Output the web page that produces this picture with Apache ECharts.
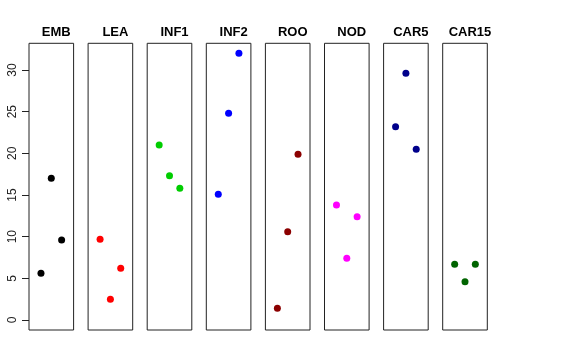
<!DOCTYPE html>
<html><head><meta charset="utf-8">
<script src="https://cdn.jsdelivr.net/npm/echarts@6/dist/echarts.min.js"></script>
<style>html,body{margin:0;padding:0;background:#fff}#c{width:576px;height:360px}</style>
</head><body><div id="c"></div>
<script>
var categories = ['EMB','LEA','INF1','INF2','ROO','NOD','CAR5','CAR15'];
var colors = ['#000000','#FF0000','#00CD00','#0000FF','#8B0000','#FF00FF','#00008B','#006400'];
var valEMB = [5.6, 17.0, 9.6];
var valLEA = [9.7, 2.5, 6.2];
var valINF1 = [21.0, 17.3, 15.8];
var valINF2 = [15.1, 24.8, 32.0];
var valROO = [1.4, 10.6, 19.9];
var valNOD = [13.8, 7.4, 12.4];
var valCAR5 = [23.2, 29.6, 20.5];
var valCAR15 = [6.7, 4.6, 6.7];
var yTicks = [0, 5, 10, 15, 20, 25, 30];
var allVals = [valEMB, valLEA, valINF1, valINF2, valROO, valNOD, valCAR5, valCAR15];

var panelLeft0 = 29, panelStep = 59.1, panelW = 44.6, panelTop = 43.3, panelH = 286.7;
var grids = [], xAxes = [], yAxes = [], series = [], titles = [];
for (var i = 0; i < categories.length; i++) {
  var L = panelLeft0 + i * panelStep;
  grids.push({left: L, top: panelTop, width: panelW, height: panelH, show: true,
    borderColor: '#222', borderWidth: 1, backgroundColor: 'transparent', containLabel: false});
  xAxes.push({gridIndex: i, type: 'value', min: -0.16, max: 4.16, show: false});
  yAxes.push({gridIndex: i, type: 'value', min: -1.2, max: 33.2, show: false});
  series.push({type: 'scatter', xAxisIndex: i, yAxisIndex: i, symbol: 'circle', symbolSize: 7,
    itemStyle: {color: colors[i], opacity: 1}, silent: true,
    data: allVals[i].map(function (v, j) { return [j + 1, v]; })});
  titles.push({text: categories[i], left: L + panelW / 2, top: 21, textAlign: 'center',
    textStyle: {fontFamily: 'Liberation Sans', fontWeight: 'bold', fontSize: 13, color: '#000'}});
}
// axis-only grid spanning 0..30, on the left edge of the first panel
grids.push({left: 29, top: 70, width: 1, height: 250, show: false});
xAxes.push({gridIndex: 8, type: 'value', show: false});
yAxes.push({gridIndex: 8, type: 'value', min: yTicks[0], max: yTicks[yTicks.length - 1], interval: 5,
  axisLine: {show: false},
  axisTick: {show: true, length: 7, lineStyle: {color: '#222'}},
  splitLine: {show: false},
  axisLabel: {rotate: 90, margin: 10, color: '#222', fontFamily: 'Liberation Sans', fontSize: 12}});

var chart = echarts.init(document.getElementById('c'), null, {renderer: 'canvas'});
chart.setOption({
  animation: false,
  backgroundColor: '#fff',
  title: titles,
  grid: grids,
  xAxis: xAxes,
  yAxis: yAxes,
  series: series
});
</script></body></html>
